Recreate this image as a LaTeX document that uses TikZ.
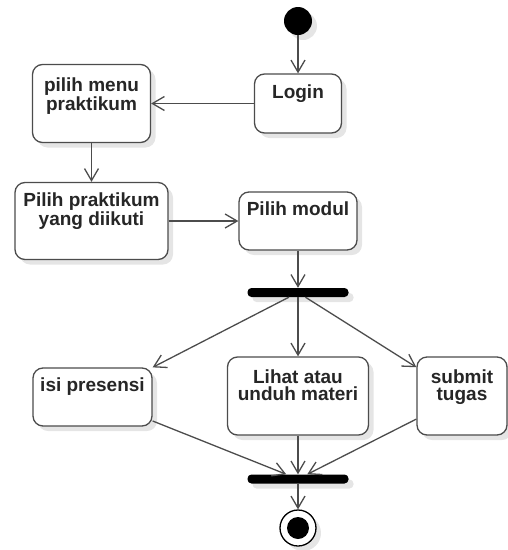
\documentclass[tikz,border=0pt]{standalone}
\usepackage{fontspec}
\setmainfont{Liberation Sans}
\usetikzlibrary{arrows.meta,shadows,positioning}

\begin{document}
\begin{tikzpicture}[x=1pt,y=-1pt,
	shade/.style={drop shadow={shadow xshift=5pt,shadow yshift=-5pt,fill=black!10,opacity=1}},
	act/.style={draw=black!70,line width=1.3pt,rounded corners=10pt,fill=white,inner sep=0pt,shade},
	acttxt/.style={font=\bfseries\fontsize{19}{17.5}\selectfont,text=black!85,align=center,inner sep=0pt},
	bar/.style={fill=black,rounded corners=4pt,minimum width=101pt,minimum height=9pt,inner sep=0pt,shade},
	flow/.style={draw=black!70,line width=1.3pt,-{Straight Barb[length=12pt,width=14pt,line width=1.3pt]}}]
	%%%%% START %%%%%
	\def\xmid{298}
	\def\rad{14pt}
	
	\useasboundingbox (0,0) rectangle (508,550);
	
	\node[circle,fill=black,minimum size=2*\rad,inner sep=0pt,shade] (start) at (\xmid,21) {};
	
	\node[act,minimum width=87pt,minimum height=59pt] (login) at (\xmid,103.5) {};
	\node[acttxt,below=11pt of login.north] (loginT) {Login};
	
	\node[act,minimum width=118pt,minimum height=78pt] (menu) at (91.5,103.5) {};
	\node[acttxt,below=14pt of menu.north] (menuT) {pilih menu\\praktikum};
	
	\node[act,minimum width=153pt,minimum height=77pt] (ikut) at (91.5,221) {};
	\node[acttxt,below=11pt of ikut.north] (ikutT) {Pilih praktikum\\yang diikuti};
	
	\node[act,minimum width=118pt,minimum height=58pt] (modul) at (\xmid,221) {};
	\node[acttxt,below=10pt of modul.north] (modulT) {Pilih modul};
	
	\node[bar] (fork) at (\xmid,292.5) {};
	
	\node[act,minimum width=119pt,minimum height=58pt] (presensi) at (92.5,397) {};
	\node[acttxt,below=10pt of presensi.north] (presensiT) {isi presensi};
	
	\node[act,minimum width=141pt,minimum height=78pt] (materi) at (\xmid,396) {};
	\node[acttxt,below=13pt of materi.north] (materiT) {Lihat atau\\unduh materi};
	
	\node[act,minimum width=90pt,minimum height=78pt] (tugas) at (462,396) {};
	\node[acttxt,below=13pt of tugas.north] (tugasT) {submit\\tugas};
	
	\node[bar] (join) at (\xmid,479) {};
	
	\node[circle,draw=black,line width=1.3pt,fill=white,minimum size=36pt,inner sep=0pt,shade] (stop) at (\xmid,528) {};
	\node[circle,fill=black,minimum size=22pt,inner sep=0pt] (stopIn) at (stop) {};
	
	% transitions
	\draw[flow] (start) -- (login);
	\draw[flow] (login) -- (menu);
	\draw[flow] (menu) -- (ikut);
	\draw[flow] (ikut) -- (modul);
	\draw[flow] (modul) -- (fork);
	\draw[flow] (fork) -- (presensi.north east);
	\draw[flow] (fork) -- (materi);
	\draw[flow] (fork) -- (tugas);
	\draw[flow] (presensi) -- (join);
	\draw[flow] (materi) -- (join);
	\draw[flow] (tugas) -- (join);
	\draw[flow] (join) -- (stop);
	%%%%% END %%%%%
\end{tikzpicture}
\end{document}
